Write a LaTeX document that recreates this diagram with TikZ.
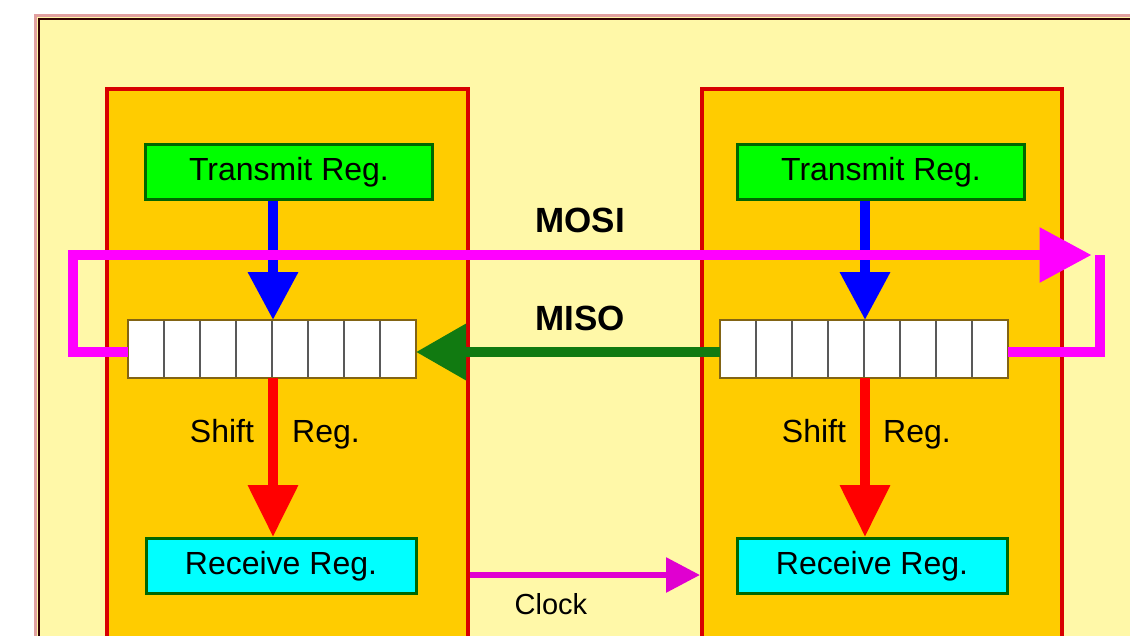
\documentclass[tikz,border=0pt]{standalone}
\usepackage{fontspec}
\setmainfont{Liberation Sans}
\usetikzlibrary{arrows.meta}
\definecolor{bgy}{HTML}{FFF8A8}
\definecolor{boxo}{HTML}{FFCC00}
\definecolor{boxr}{HTML}{D80000}
\definecolor{gr}{HTML}{00FF00}
\definecolor{dgr}{HTML}{006600}
\definecolor{cy}{HTML}{00FFFF}
\definecolor{mg}{HTML}{FF00FF}
\definecolor{mgd}{HTML}{E000D0}
\definecolor{agr}{HTML}{117A11}
\begin{document}
\begin{tikzpicture}[x=1pt,y=-1pt,
  unit/.style={draw=boxr,line width=4pt,fill=boxo},
  reg/.style={draw=#1,line width=3pt,minimum width=287pt,minimum height=55pt,inner sep=0pt,font=\fontsize{32}{34}\selectfont},
  lbl/.style={font=\fontsize{32}{34}\selectfont,inner sep=0pt,anchor=base},
  big/.style={font=\bfseries\fontsize{35}{37}\selectfont,inner sep=0pt},
  cell/.style={draw=gray!70!black,line width=2pt,fill=white,minimum width=36pt,minimum height=58pt,inner sep=0pt}]
\useasboundingbox (0,0) rectangle (1130,635);
\fill[white] (0,0) rectangle (1130,635);
\fill[bgy] (37,17) rectangle (1130,640);
\draw[color={rgb,255:red,225;green,160;blue,160},line width=3pt] (35,640) -- (35,15) -- (1132,15);
\draw[color={rgb,255:red,50;green,0;blue,0},line width=2pt] (39,640) -- (39,19) -- (1132,19);
\draw[unit] (107,645) -- (107,89) -- (468,89) -- (468,645);
\draw[unit] (702,645) -- (702,89) -- (1062,89) -- (1062,645);
% registers
\node[reg=dgr,fill=gr] (tl) at (289,172) {Transmit Reg.};
\node[reg=dgr,fill=gr] (tr) at (881,172) {Transmit Reg.};
\node[reg=dgr,fill=cy,minimum width=270pt] (rl) at (281,566) {Receive Reg.};
\node[reg=dgr,fill=cy,minimum width=270pt] (rr) at (872,566) {Receive Reg.};
% shift registers
\foreach \i in {0,...,7}{
  \node[cell] (l\i) at (146+\i*36,349) {};
  \node[cell] (r\i) at (738+\i*36,349) {};
}
\draw[line width=2.5pt,color={rgb,255:red,130;green,100;blue,20}] (128,320) rectangle (416,378);
\draw[line width=2.5pt,color={rgb,255:red,130;green,100;blue,20}] (720,320) rectangle (1008,378);
\coordinate (slt) at (273,320); \coordinate (slb) at (273,378);
\coordinate (srt) at (865,320); \coordinate (srb) at (865,378);
\coordinate (sll) at (128,352); \coordinate (slr) at (416,352);
\coordinate (srl) at (720,352); \coordinate (srr) at (1008,352);
% blue arrows
\draw[blue,line width=10pt,-{Triangle[width=48pt,length=48pt]}] (tl.south -| slt) -- (slt);
\draw[blue,line width=10pt,-{Triangle[width=48pt,length=48pt]}] (tr.south -| srt) -- (srt);
% red arrows
\draw[red,line width=10pt,-{Triangle[width=48pt,length=52pt]}] (slb) -- (rl.north -| slb);
\draw[red,line width=10pt,-{Triangle[width=48pt,length=52pt]}] (srb) -- (rr.north -| srb);
% MOSI
\coordinate (m1) at (73,255); \coordinate (m3) at (1100,255);
\draw[mg,line width=10pt] (sll) -- (m1 |- sll) -- (m1) -- (1050,255);
\draw[mg,line width=1pt,fill=mg] (1040,228) -- (1090,255) -- (1040,282) -- cycle;
\draw[mg,line width=10pt] (srr) -- (m3 |- srr) -- (m3);
\node[big] (mosi) at (580,220) {MOSI};
% MISO
\draw[agr,line width=10pt,-{Triangle[width=54pt,length=50pt]}] (srl) -- (slr);
\node[big] (miso) at (580,318) {MISO};
% shift labels
\node[lbl] at (222,442) {Shift};
\node[lbl] at (326,442) {Reg.};
\node[lbl] at (814,442) {Shift};
\node[lbl] at (917,442) {Reg.};
% clock
\coordinate (c1) at (470,575); \coordinate (c2) at (700,575);
\draw[mgd,line width=6pt,-{Triangle[width=34pt,length=34pt]}] (c1) -- (c2);
\node[lbl,font=\fontsize{29}{30}\selectfont] at (551,614) {Clock};
\end{tikzpicture}
\end{document}
